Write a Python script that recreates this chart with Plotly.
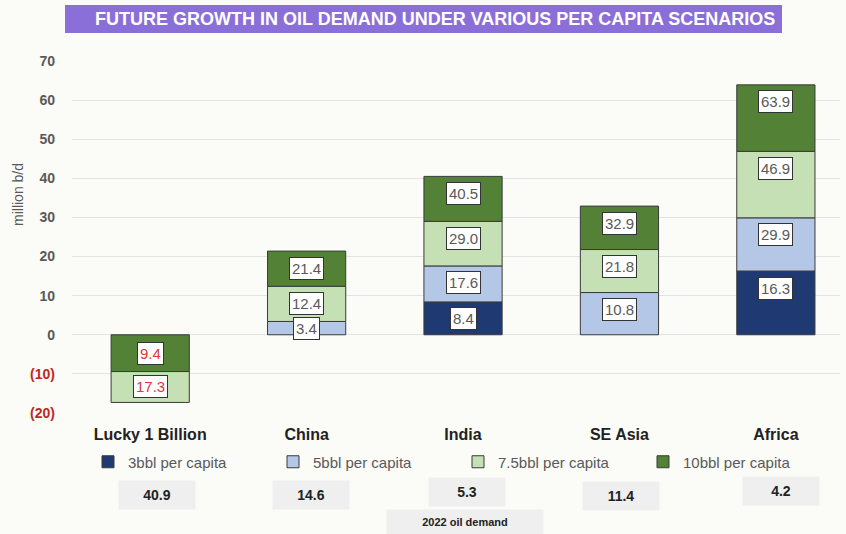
import plotly.graph_objects as go

categories = ["Lucky 1 Billion", "China", "India", "SE Asia", "Africa"]
scenario_names = ["3bbl per capita", "5bbl per capita", "7.5bbl per capita", "10bbl per capita"]
cum_3bbl = [None, None, 8.4, None, 16.3]
cum_5bbl = [None, 3.4, 17.6, 10.8, 29.9]
cum_7_5bbl = [-17.3, 12.4, 29.0, 21.8, 46.9]
cum_10bbl = [-9.4, 21.4, 40.5, 32.9, 63.9]
demand_2022 = [40.9, 14.6, 5.3, 11.4, 4.2]
y_tick_vals = [-20, -10, 0, 10, 20, 30, 40, 50, 60, 70]
y_tick_text = ["(20)", "(10)", "0", "10", "20", "30", "40", "50", "60", "70"]

colors = ["#1F3A72", "#B4C7E7", "#C5E0B4", "#538135"]
series = [cum_3bbl, cum_5bbl, cum_7_5bbl, cum_10bbl]

W, H = 846, 534
L, R, T, B = 72, 6, 61, 121
PW, PH = W - L - R, H - T - B
FONT = "Liberation Sans, Arial"


def px_x(p):
    return (p - L) / PW


def px_y(p):
    return (H - B - p) / PH


# each segment starts at the previous cumulative value of smaller magnitude
bases = [[None] * len(categories) for _ in series]
heights = [[None] * len(categories) for _ in series]
for i in range(len(categories)):
    vals = [(abs(s[i]), k, s[i]) for k, s in enumerate(series) if s[i] is not None]
    vals.sort()
    prev = 0.0
    for _, k, v in vals:
        bases[k][i] = prev
        heights[k][i] = v - prev
        prev = v

fig = go.Figure()
for k, name in enumerate(scenario_names):
    fig.add_trace(go.Bar(
        x=categories, y=heights[k], base=bases[k], name=name,
        marker=dict(color=colors[k], line=dict(color="#3a3a3a", width=1)),
        width=0.5, hoverinfo="skip",
    ))

ann = []
units_per_px = 90 / PH
for k in range(len(series)):
    for i, cat in enumerate(categories):
        v = series[k][i]
        if v is None:
            continue
        b = bases[k][i]
        mid = (b + v) / 2
        if v >= 0:
            ypos = max(v - 17 * units_per_px, mid)
            col = "#595959"
            txt = f"{v:.1f}"
        else:
            ypos = mid
            col = "#E03838"
            txt = f"{abs(v):.1f}"
        ann.append(dict(x=cat, y=ypos, xref="x", yref="y", text=txt, showarrow=False,
                        xanchor="center", yanchor="middle",
                        font=dict(size=15, color=col, family=FONT),
                        bgcolor="white", bordercolor="#333333", borderwidth=1, borderpad=2))

box_shift = [7, 4, 4, 2, 5]
box_y = [495, 495, 492, 496, 491]
for i, cat in enumerate(categories):
    ann.append(dict(x=cat, y=px_y(box_y[i]), xref="x", yref="paper", xshift=box_shift[i],
                    xanchor="center", yanchor="middle",
                    text=f"<b>{demand_2022[i]:.1f}</b>", showarrow=False,
                    width=74, height=26, bgcolor="#EFEFEF",
                    font=dict(size=14, color="#222222", family=FONT)))
ann.append(dict(x=px_x(465), y=px_y(522), xref="paper", yref="paper",
                xanchor="center", yanchor="middle",
                text="<b>2022 oil demand</b>", showarrow=False, width=154, height=22,
                bgcolor="#EFEFEF", font=dict(size=11, color="#222222", family=FONT)))

# y-axis title
ann.append(dict(x=px_x(18), y=px_y(195), xref="paper", yref="paper",
                xanchor="center", yanchor="middle", textangle=-90,
                text="million b/d", showarrow=False,
                font=dict(size=14, color="#595959", family=FONT)))

# title
ann.append(dict(x=px_x(435), y=px_y(19), xref="paper", yref="paper",
                xanchor="center", yanchor="middle",
                text="<b>FUTURE GROWTH IN OIL DEMAND UNDER VARIOUS PER CAPITA SCENARIOS</b>",
                showarrow=False, font=dict(size=18, color="white", family=FONT)))

shapes = [dict(type="rect", xref="paper", yref="paper", x0=px_x(65), x1=px_x(782),
               y0=px_y(33), y1=px_y(5), fillcolor="#8A6FD9", line=dict(width=0), layer="below")]

tick_text = [f"<b><span style='color:#C0281E'>{t}</span></b>" if t.startswith("(") else f"<b>{t}</b>"
             for t in y_tick_text]

fig.update_layout(
    width=W, height=H,
    margin=dict(l=L, r=R, t=T, b=B),
    paper_bgcolor="#FBFBF7", plot_bgcolor="#FBFBF7",
    barmode="overlay",
    font=dict(family=FONT, color="#595959"),
    showlegend=True,
    legend=dict(orientation="h", x=px_x(88), y=px_y(462), xanchor="left", yanchor="middle",
                entrywidth=140, itemwidth=30, traceorder="normal",
                font=dict(size=15, color="#595959"), bgcolor="rgba(0,0,0,0)"),
    annotations=ann,
    shapes=shapes,
)
fig.update_xaxes(range=[-0.5, 4.41], showgrid=False, zeroline=False, showline=False,
                 ticks="", tickfont=dict(size=16, color="#222222", family=FONT),
                 tickprefix="<b>", ticksuffix="</b>", ticklabelstandoff=10)
fig.update_yaxes(range=[-20, 70], tickvals=y_tick_vals, ticktext=tick_text,
                 showgrid=True, gridcolor="#E3E3E3", gridwidth=1, zeroline=False,
                 tickfont=dict(size=14, color="#595959", family=FONT),
                 ticklabelstandoff=16)

fig.write_html("out.html", config={"displayModeBar": False},
               post_script="document.body.style.margin='0';document.body.style.background='#FBFBF7';")
